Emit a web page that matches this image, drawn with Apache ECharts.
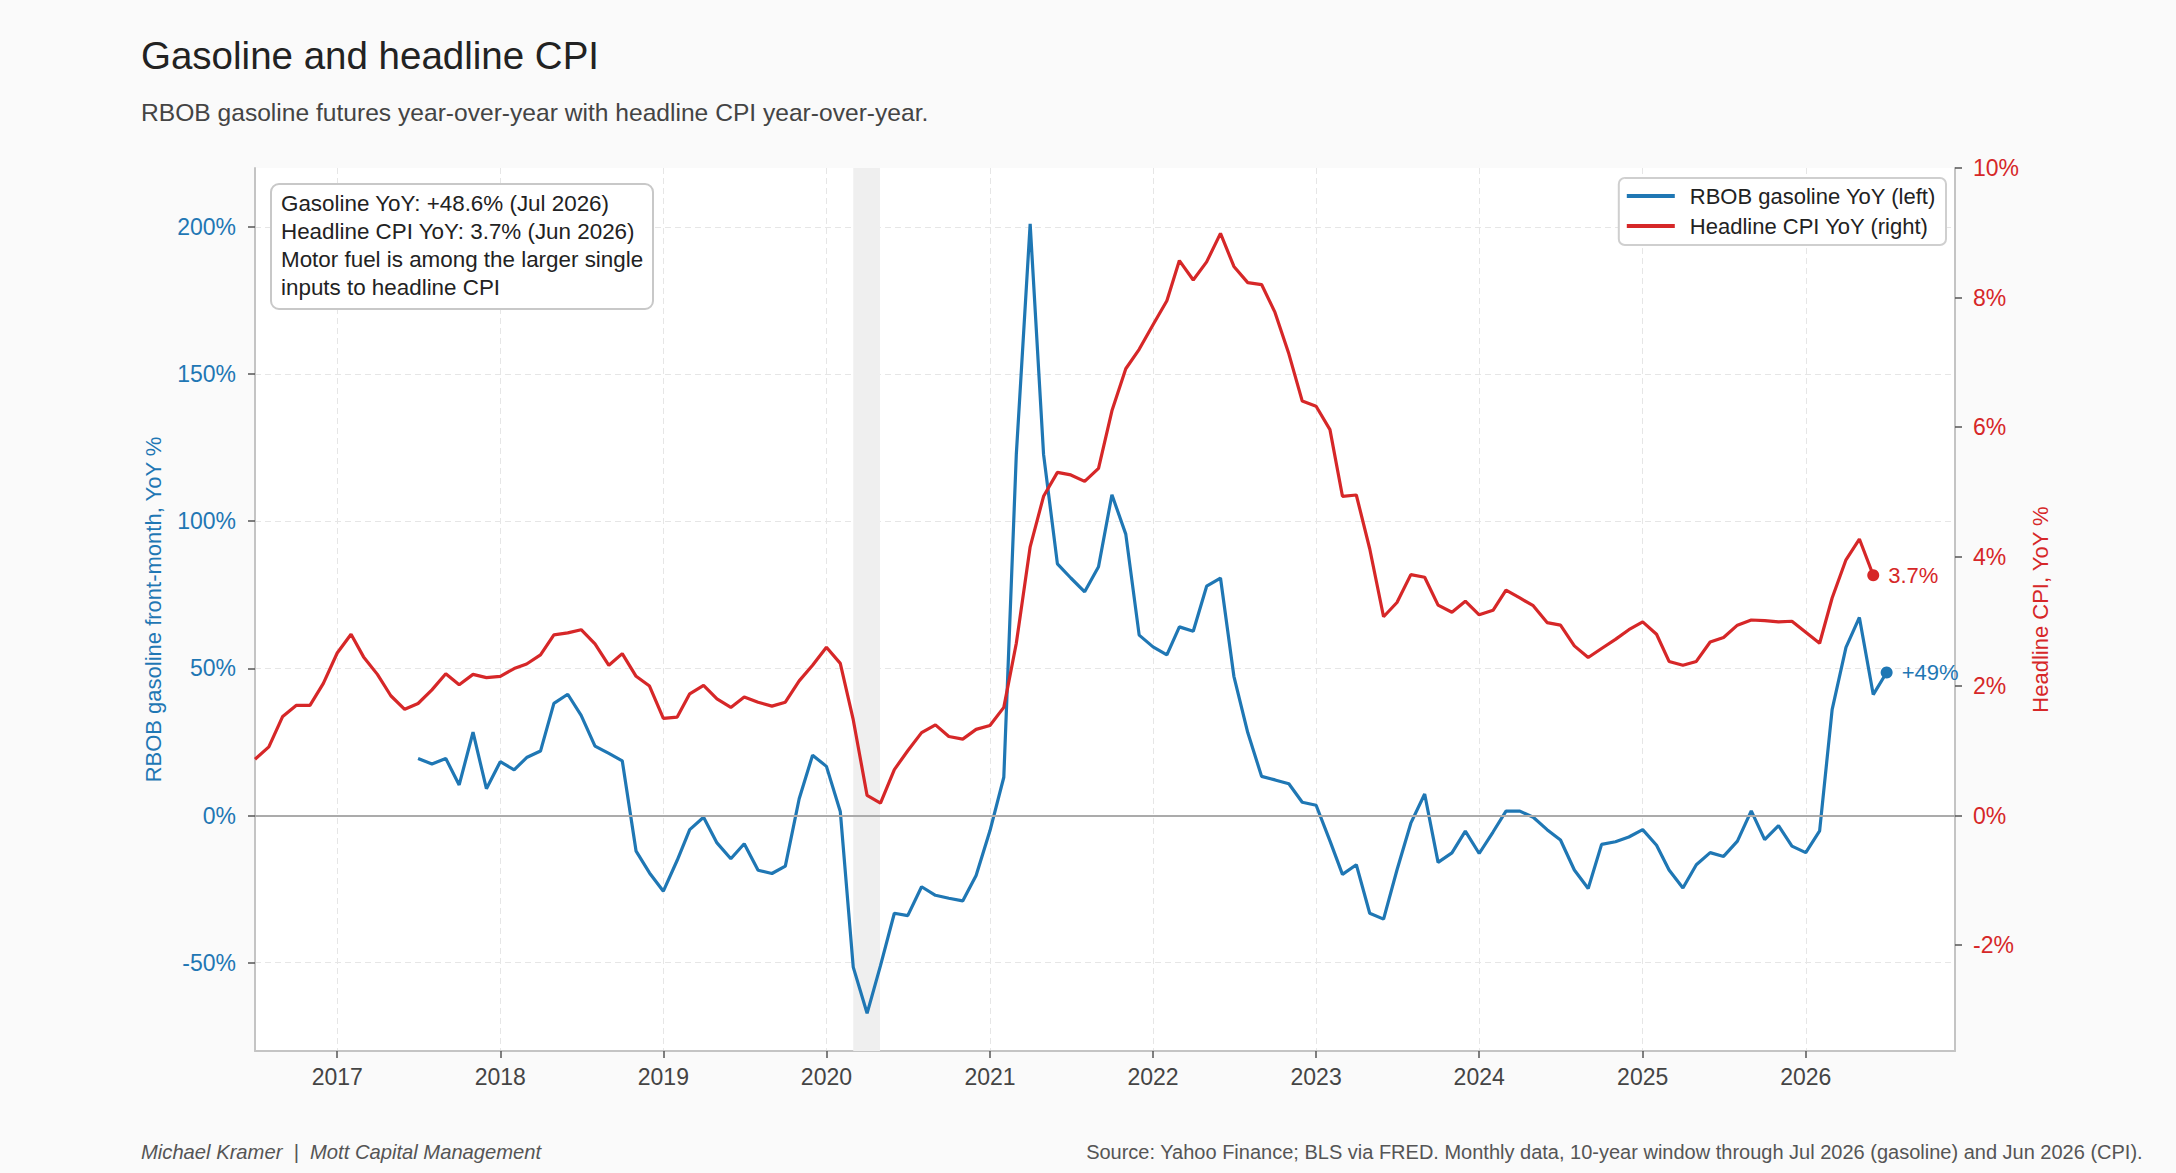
<!DOCTYPE html>
<html>
<head>
<meta charset="utf-8">
<script src="https://cdn.jsdelivr.net/npm/echarts@6/dist/echarts.min.js"></script>
<style>
html,body{margin:0;padding:0;background:#fafafa;}
#chart{width:2176px;height:1173px;}
</style>
</head>
<body>
<div id="chart"></div>
<script>
// ---------- data ----------
const cpiStart = [2016, 7];   // first month of headline CPI YoY series
const cpiYoY = [
  0.87, 1.06, 1.53, 1.70, 1.70, 2.04,
  2.51, 2.80, 2.45, 2.18, 1.85, 1.64, 1.73, 1.94, 2.19, 2.02, 2.18, 2.13,
  2.15, 2.27, 2.34, 2.48, 2.79, 2.82, 2.87, 2.65, 2.32, 2.50, 2.15, 2.00,
  1.50, 1.52, 1.88, 2.01, 1.80, 1.67, 1.83, 1.75, 1.69, 1.75, 2.08, 2.32,
  2.60, 2.35, 1.48, 0.31, 0.19, 0.71, 1.00, 1.28, 1.40, 1.22, 1.18, 1.33,
  1.39, 1.67, 2.66, 4.15, 4.93, 5.30, 5.26, 5.16, 5.36, 6.25, 6.90, 7.20,
  7.58, 7.95, 8.57, 8.27, 8.55, 8.99, 8.48, 8.23, 8.20, 7.77, 7.13, 6.40,
  6.32, 5.96, 4.93, 4.95, 4.12, 3.07, 3.29, 3.72, 3.68, 3.25, 3.14, 3.31,
  3.10, 3.17, 3.48, 3.36, 3.24, 2.98, 2.94, 2.62, 2.44, 2.58, 2.72, 2.87,
  2.99, 2.80, 2.38, 2.32, 2.38, 2.68, 2.75, 2.94, 3.02, 3.01, 2.99, 3.00,
  2.83, 2.66, 3.36, 3.95, 4.27, 3.71
];
const gasStart = [2017, 7];   // first month of RBOB gasoline YoY series
const gasYoY = [
  19.4, 17.5, 19.4, 10.4, 28.3, 9.1,
  18.3, 15.5, 19.7, 21.9, 38.1, 41.2, 34.0, 23.6, 21.1, 18.6, -12.1, -19.5,
  -25.7, -15.2, -4.8, -0.6, -9.3, -14.7, -9.6, -18.6, -19.7, -17.2, 5.7, 20.5,
  16.7, 1.4, -51.5, -67.2, -51.0, -33.2, -34.0, -24.2, -27.1, -28.1, -29.0, -20.4,
  -5.2, 13.0, 122.7, 201.0, 122.7, 85.5, 80.7, 76.0, 84.5, 109.0, 95.6, 61.3,
  57.3, 54.6, 64.1, 62.6, 77.9, 80.7, 47.3, 28.2, 13.3, 12.1, 10.8, 4.5,
  3.5, -8.6, -20.0, -16.7, -33.2, -35.2, -18.5, -2.6, 7.3, -15.9, -12.7, -5.3,
  -12.9, -5.6, 1.5, 1.5, -0.6, -4.8, -8.3, -18.5, -24.8, -9.8, -8.9, -7.3,
  -4.8, -10.1, -18.5, -24.6, -16.7, -12.6, -13.9, -8.7, 1.6, -8.2, -3.4, -10.4,
  -12.6, -5.2, 36.0, 57.1, 67.3, 41.1, 48.6
];
const yearTickLabels = [2017, 2018, 2019, 2020, 2021, 2022, 2023, 2024, 2025, 2026];
const leftTicks = [-50, 0, 50, 100, 150, 200];
const rightTicks = [-2, 0, 2, 4, 6, 8, 10];
const recessionBand = [[2020, 3, 1], [2020, 4, 30]];
const xRange = [[2016, 7, 1], [2026, 12, 1]];
const seriesNames = ['RBOB gasoline YoY (left)', 'Headline CPI YoY (right)'];
const noteLines = [
  'Gasoline YoY: +48.6% (Jul 2026)',
  'Headline CPI YoY: 3.7% (Jun 2026)',
  'Motor fuel is among the larger single',
  'inputs to headline CPI'
];

// ---------- helpers ----------
const ts = (y, m, d) => new Date(y, m - 1, d || 1).getTime();
function monthly(start, values) {
  return values.map((v, i) => {
    const y = start[0] + Math.floor((start[1] - 1 + i) / 12);
    const m = ((start[1] - 1 + i) % 12) + 1;
    return [ts(y, m, 1), v];
  });
}
const gasData = monthly(gasStart, gasYoY);
const cpiData = monthly(cpiStart, cpiYoY);
const yearTicks = yearTickLabels.map(y => ts(y, 1, 1));
const gasLast = gasData[gasData.length - 1];
const cpiLast = cpiData[cpiData.length - 1];

const FONT = '"Liberation Sans", Arial, Helvetica, sans-serif';
const BLUE = '#1f77b4';
const RED = '#d62728';
const SPINE = '#c4c4c4';
const TICK = { show: true, length: 7, lineStyle: { color: '#555', width: 1.5 } };
const GRID_LINE = { show: true, lineStyle: { color: '#e6e6e6', width: 1, type: [6, 4] } };

const leftMax = 220, leftMin = -80;
const rightMax = 10, rightMin = leftMin / leftMax * rightMax; // aligned zero

const chart = echarts.init(document.getElementById('chart'), null, { renderer: 'svg' });
chart.setOption({
  animation: false,
  backgroundColor: '#fafafa',
  textStyle: { fontFamily: FONT },
  title: [
    {
      text: 'Gasoline and headline CPI',
      subtext: 'RBOB gasoline futures year-over-year with headline CPI year-over-year.',
      left: 141, top: 34, padding: 0, itemGap: 22,
      textStyle: { fontFamily: FONT, fontSize: 38.5, fontWeight: 'normal', color: '#222', lineHeight: 42 },
      subtextStyle: { fontFamily: FONT, fontSize: 24.6, color: '#444', lineHeight: 28 }
    },
    {
      text: noteLines.join('\n'),
      left: 271, top: 184,
      padding: [5, 10, 8, 10],
      backgroundColor: '#ffffff',
      borderColor: '#c8c8c8', borderWidth: 2, borderRadius: 8,
      textStyle: { fontFamily: FONT, fontSize: 22.4, fontWeight: 'normal', color: '#222', lineHeight: 28 }
    },
    {
      text: 'Michael Kramer\u00a0\u00a0|\u00a0\u00a0Mott Capital Management',
      left: 141, top: 1140, padding: 0,
      textStyle: { fontFamily: FONT, fontSize: 20.2, fontStyle: 'italic', fontWeight: 'normal', color: '#555', lineHeight: 24 }
    },
    {
      text: 'Source: Yahoo Finance; BLS via FRED. Monthly data, 10-year window through Jul 2026 (gasoline) and Jun 2026 (CPI).',
      right: 33, top: 1140, padding: 0,
      textStyle: { fontFamily: FONT, fontSize: 20, fontWeight: 'normal', color: '#555', lineHeight: 24 }
    }
  ],
  legend: {
    orient: 'vertical',
    right: 230, top: 178,
    backgroundColor: '#ffffff',
    borderColor: '#cfcfcf', borderWidth: 2, borderRadius: 6,
    padding: [7, 10, 8, 8],
    itemWidth: 48, itemHeight: 4, itemGap: 8,
    textStyle: { fontFamily: FONT, fontSize: 22, color: '#222', lineHeight: 22, padding: [0, 0, 0, 10] },
    data: [
      { name: seriesNames[0], icon: 'rect' },
      { name: seriesNames[1], icon: 'rect' }
    ]
  },
  grid: {
    left: 255, right: 221, top: 168, bottom: 122,
    show: true, backgroundColor: '#ffffff', borderWidth: 0
  },
  xAxis: {
    type: 'value',
    min: ts(...xRange[0]), max: ts(...xRange[1]),
    axisLine: { show: true, onZero: false, lineStyle: { color: SPINE, width: 2 } },
    axisTick: Object.assign({ customValues: yearTicks }, TICK),
    axisLabel: {
      customValues: yearTicks,
      formatter: v => String(new Date(v).getFullYear()),
      fontFamily: FONT, fontSize: 23, color: '#444', margin: 14
    },
    splitLine: GRID_LINE
  },
  yAxis: [
    {
      type: 'value', position: 'left',
      min: leftMin, max: leftMax,
      axisLine: { show: true, lineStyle: { color: SPINE, width: 2 } },
      axisTick: Object.assign({ customValues: leftTicks }, TICK),
      axisLabel: { customValues: leftTicks, formatter: '{value}%', fontFamily: FONT, fontSize: 23, color: BLUE, margin: 19 },
      splitLine: GRID_LINE,
      name: 'RBOB gasoline front-month, YoY %',
      nameLocation: 'middle', nameGap: 91, nameRotate: 90,
      nameTextStyle: { fontFamily: FONT, fontSize: 22, color: BLUE }
    },
    {
      type: 'value', position: 'right',
      min: rightMin, max: rightMax,
      axisLine: { show: true, lineStyle: { color: SPINE, width: 2 } },
      axisTick: Object.assign({ customValues: rightTicks }, TICK),
      axisLabel: { customValues: rightTicks, formatter: '{value}%', fontFamily: FONT, fontSize: 23, color: RED, margin: 18 },
      splitLine: { show: false },
      name: 'Headline CPI, YoY %',
      nameLocation: 'middle', nameGap: 74, nameRotate: 90,
      nameTextStyle: { fontFamily: FONT, fontSize: 22, color: RED }
    }
  ],
  series: [
    {
      name: '_background',
      type: 'line', data: [], silent: true, z: 1,
      markArea: {
        silent: true,
        itemStyle: { color: '#efefef' },
        data: [[{ xAxis: ts(...recessionBand[0]) }, { xAxis: ts(...recessionBand[1]) }]]
      },
      markLine: {
        silent: true, symbol: 'none',
        label: { show: false },
        lineStyle: { color: '#ababab', width: 2, type: 'solid' },
        data: [{ yAxis: 0 }]
      }
    },
    {
      name: seriesNames[0],
      type: 'line', yAxisIndex: 0, data: gasData,
      symbol: 'none', showSymbol: false, z: 3,
      lineStyle: { color: BLUE, width: 3.2 },
      itemStyle: { color: BLUE }
    },
    {
      name: seriesNames[1],
      type: 'line', yAxisIndex: 1, data: cpiData,
      symbol: 'none', showSymbol: false, z: 3,
      lineStyle: { color: RED, width: 3.2 },
      itemStyle: { color: RED }
    },
    {
      name: '_gasEnd',
      type: 'scatter', yAxisIndex: 0, data: [gasLast], symbolSize: 12, z: 4,
      itemStyle: { color: BLUE, opacity: 1 },
      label: {
        show: true, position: 'right', distance: 9,
        formatter: p => (p.value[1] >= 0 ? '+' : '') + Math.round(p.value[1]) + '%',
        fontFamily: FONT, fontSize: 22, color: BLUE
      }
    },
    {
      name: '_cpiEnd',
      type: 'scatter', yAxisIndex: 1, data: [cpiLast], symbolSize: 12, z: 4,
      itemStyle: { color: RED, opacity: 1 },
      label: {
        show: true, position: 'right', distance: 9,
        formatter: p => p.value[1].toFixed(1) + '%',
        fontFamily: FONT, fontSize: 22, color: RED
      }
    }
  ]
});
</script>
</body>
</html>
